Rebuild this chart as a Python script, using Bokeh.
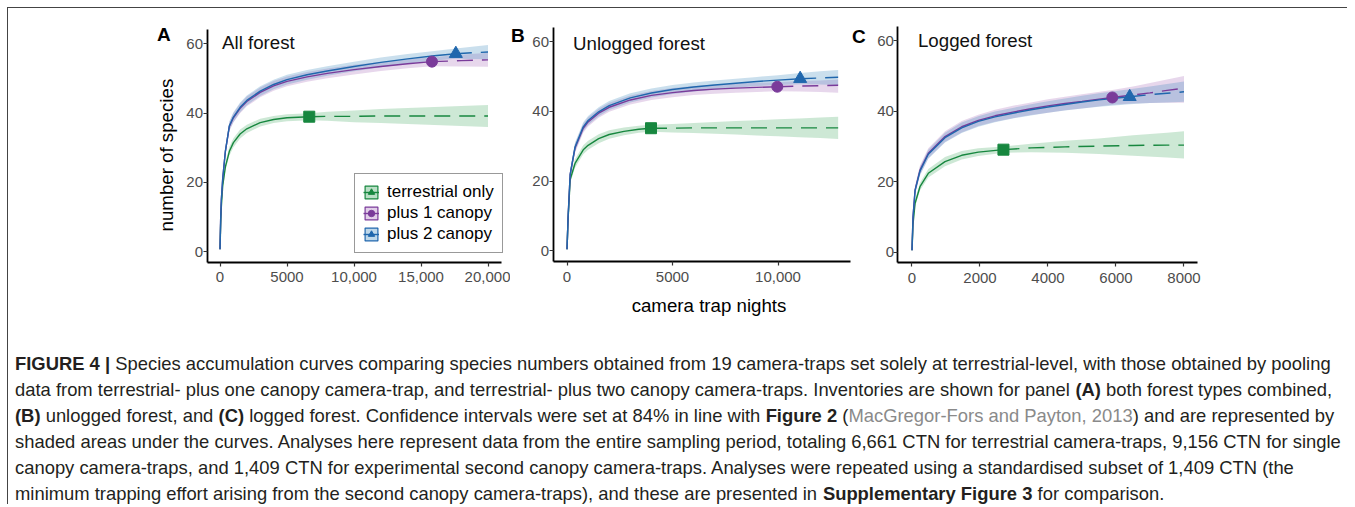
from bokeh.plotting import figure
from bokeh.models import Range1d, FixedTicker, Label, Legend, LegendItem
from bokeh.layouts import row, column
from bokeh.embed import file_html
from bokeh.resources import INLINE
from bokeh.core.properties import value

# ---------------- data ----------------
series_labels = ["terrestrial only", "plus 1 canopy", "plus 2 canopy"]
panel_titles = ["All forest", "Unlogged forest", "Logged forest"]
panel_letters = ["A", "B", "C"]
y_label = "number of species"
x_label = "camera trap nights"
y_ticks = [0, 20, 40, 60]
A_x_ticks = [0, 5000, 10000, 15000, 20000]
B_x_ticks = [0, 5000, 10000]
C_x_ticks = [0, 2000, 4000, 6000, 8000]
x_tick_text = {10000: "10,000", 15000: "15,000", 20000: "20,000"}

# Panel A (all forest)
A_green_x = [1, 50, 100, 200, 400, 700, 1000, 1500, 2000, 3000, 4000, 5000, 6661, 8000, 10000, 12000, 14000, 16000, 18000, 20000]
A_green_y = [0.7, 8.0, 13.0, 19.0, 24.5, 29.0, 31.5, 34.0, 35.5, 37.3, 38.2, 38.7, 39.0, 39.1, 39.1, 39.2, 39.2, 39.2, 39.2, 39.2]
A_green_lo = [0.6, 7.2, 12.0, 17.9, 23.3, 27.7, 30.2, 32.7, 34.3, 36.2, 37.2, 37.7, 38.0, 37.8, 37.4, 37.2, 36.9, 36.6, 36.3, 36.0]
A_green_hi = [0.8, 8.8, 14.0, 20.1, 25.7, 30.3, 32.8, 35.3, 36.7, 38.4, 39.2, 39.7, 40.0, 40.4, 40.8, 41.2, 41.5, 41.8, 42.1, 42.4]
A_purple_x = [1, 50, 100, 200, 400, 700, 1000, 1500, 2000, 3000, 4000, 5000, 6500, 8000, 10000, 12000, 14000, 15817, 18000, 20000]
A_purple_y = [0.7, 9.5, 15.0, 21.0, 29.0, 36.2, 38.7, 41.4, 43.4, 46.0, 47.9, 49.2, 50.5, 51.5, 52.6, 53.5, 54.3, 54.9, 55.2, 55.4]
A_purple_lo = [0.6, 8.8, 14.1, 19.9, 27.8, 34.9, 37.3, 40.0, 42.0, 44.6, 46.5, 47.8, 49.1, 50.1, 51.2, 52.2, 53.0, 53.6, 53.5, 53.4]
A_purple_hi = [0.8, 10.2, 15.9, 22.1, 30.2, 37.5, 40.1, 42.8, 44.8, 47.4, 49.3, 50.6, 51.9, 52.9, 54.0, 54.8, 55.6, 56.2, 56.9, 57.5]
A_blue_x = [1, 50, 100, 200, 400, 700, 1000, 1500, 2000, 3000, 4000, 5000, 6500, 8000, 10000, 12000, 14000, 16000, 17600, 20000]
A_blue_y = [0.7, 9.5, 15.0, 21.0, 29.0, 36.4, 38.9, 41.7, 43.7, 46.4, 48.3, 49.7, 51.1, 52.2, 53.5, 54.7, 55.7, 56.6, 57.2, 57.7]
A_blue_lo = [0.6, 8.8, 14.1, 19.9, 27.8, 35.1, 37.5, 40.3, 42.3, 45.0, 46.9, 48.3, 49.7, 50.8, 52.1, 53.3, 54.3, 55.2, 55.7, 55.6]
A_blue_hi = [0.8, 10.2, 15.9, 22.1, 30.2, 37.7, 40.3, 43.1, 45.1, 47.8, 49.7, 51.1, 52.5, 53.6, 54.9, 56.1, 57.1, 58.0, 58.7, 59.7]
A_obs_x = [6661, 15817, 17600]

# Panel B (unlogged forest)
B_green_x = [1, 50, 150, 380, 770, 1000, 1500, 2000, 2700, 3400, 3981, 5000, 6000, 7000, 8000, 9000, 10000, 11000, 12000, 12850]
B_green_y = [0.5, 9.0, 20.5, 25.1, 29.0, 30.3, 32.2, 33.4, 34.3, 34.9, 35.2, 35.2, 35.3, 35.3, 35.3, 35.3, 35.3, 35.3, 35.3, 35.3]
B_green_lo = [0.4, 8.2, 19.4, 23.9, 27.7, 29.0, 30.9, 32.2, 33.2, 33.9, 34.2, 34.0, 33.8, 33.6, 33.4, 33.1, 32.9, 32.6, 32.4, 32.1]
B_green_hi = [0.6, 9.8, 21.6, 26.3, 30.3, 31.6, 33.5, 34.6, 35.4, 35.9, 36.2, 36.4, 36.7, 37.0, 37.3, 37.5, 37.8, 38.0, 38.3, 38.5]
B_purple_x = [1, 50, 150, 380, 770, 1000, 1500, 2000, 3000, 4000, 5000, 6000, 7000, 8000, 9000, 9967, 11000, 12000, 12850]
B_purple_y = [0.5, 9.5, 22.0, 29.5, 35.2, 37.0, 39.5, 41.2, 43.3, 44.6, 45.4, 46.0, 46.4, 46.7, 46.9, 47.1, 47.3, 47.4, 47.5]
B_purple_lo = [0.4, 8.7, 20.8, 28.2, 33.9, 35.7, 38.2, 39.9, 42.0, 43.3, 44.1, 44.7, 45.1, 45.4, 45.6, 45.8, 45.7, 45.6, 45.4]
B_purple_hi = [0.6, 10.3, 23.2, 30.8, 36.5, 38.3, 40.8, 42.5, 44.6, 45.9, 46.7, 47.3, 47.7, 48.0, 48.2, 48.4, 48.7, 48.9, 49.2]
B_blue_x = [1, 50, 150, 380, 770, 1000, 1500, 2000, 3000, 4000, 5000, 6000, 7000, 8000, 9000, 10000, 11050, 12000, 12850]
B_blue_y = [0.5, 9.5, 22.0, 29.8, 35.6, 37.4, 39.9, 41.7, 43.9, 45.3, 46.3, 47.0, 47.6, 48.1, 48.6, 49.0, 49.4, 49.6, 49.8]
B_blue_lo = [0.4, 8.7, 20.8, 28.5, 34.3, 36.1, 38.6, 40.4, 42.6, 44.0, 45.0, 45.7, 46.3, 46.8, 47.3, 47.6, 47.8, 47.7, 47.6]
B_blue_hi = [0.6, 10.3, 23.2, 31.1, 36.9, 38.7, 41.2, 43.0, 45.2, 46.6, 47.6, 48.3, 48.9, 49.4, 49.9, 50.4, 51.0, 51.5, 51.9]
B_obs_x = [3981, 9967, 11050]

# Panel C (logged forest)
C_green_x = [1, 30, 91, 235, 480, 971, 1462, 1950, 2690, 3500, 4500, 5500, 6500, 7500, 8000]
C_green_y = [0.6, 8.0, 13.9, 18.6, 22.4, 25.7, 27.5, 28.4, 29.1, 29.6, 29.9, 30.1, 30.3, 30.4, 30.4]
C_green_lo = [0.5, 7.3, 13.0, 17.5, 21.2, 24.4, 26.3, 27.3, 28.2, 28.4, 28.2, 27.9, 27.4, 26.9, 26.6]
C_green_hi = [0.7, 8.7, 14.8, 19.7, 23.6, 27.0, 28.7, 29.5, 30.0, 30.8, 31.6, 32.3, 33.2, 33.9, 34.3]
C_purple_x = [1, 30, 91, 235, 480, 971, 1462, 1950, 2441, 3000, 3500, 4000, 4500, 5000, 5892, 6500, 7000, 7500, 8000]
C_purple_y = [0.6, 10.0, 17.7, 23.3, 28.1, 32.8, 35.6, 37.4, 38.7, 39.8, 40.7, 41.5, 42.2, 42.8, 43.9, 44.6, 45.2, 45.9, 46.5]
C_purple_lo = [0.5, 9.1, 16.5, 22.0, 26.7, 31.3, 34.0, 35.8, 37.0, 38.1, 38.9, 39.6, 40.3, 40.8, 41.8, 42.2, 42.3, 42.4, 42.4]
C_purple_hi = [0.7, 10.9, 18.9, 24.6, 29.5, 34.3, 37.2, 39.0, 40.4, 41.6, 42.5, 43.4, 44.1, 44.8, 46.0, 47.0, 48.0, 49.0, 50.0]
C_blue_x = [1, 30, 91, 235, 480, 971, 1462, 1950, 2441, 3000, 3500, 4000, 4500, 5000, 5500, 6403, 7000, 7500, 8000]
C_blue_y = [0.6, 10.0, 17.5, 23.0, 27.8, 32.5, 35.3, 37.1, 38.4, 39.5, 40.4, 41.2, 41.9, 42.6, 43.2, 44.1, 44.7, 45.1, 45.5]
C_blue_lo = [0.5, 9.1, 16.4, 21.8, 26.5, 31.1, 33.8, 35.6, 36.9, 38.0, 38.8, 39.6, 40.2, 40.8, 41.3, 42.0, 42.3, 42.5, 42.7]
C_blue_hi = [0.7, 10.9, 18.6, 24.2, 29.1, 33.9, 36.8, 38.6, 39.9, 41.0, 42.0, 42.8, 43.6, 44.4, 45.1, 46.2, 47.0, 47.7, 48.4]
C_obs_x = [2690, 5892, 6403]

# caption: (text, style, space before)
caption_lines = [
    [("FIGURE 4 |", "b", False), ("Species accumulation curves comparing species numbers obtained from 19 camera-traps set solely at terrestrial-level, with those obtained by pooling", "n", True)],
    [("data from terrestrial- plus one canopy camera-trap, and terrestrial- plus two canopy camera-traps. Inventories are shown for panel", "n", False), ("(A)", "b", True), ("both forest types combined,", "n", True)],
    [("(B)", "b", False), ("unlogged forest, and", "n", True), ("(C)", "b", True), ("logged forest. Confidence intervals were set at 84% in line with", "n", True), ("Figure 2", "b", True), ("(", "n", True), ("MacGregor-Fors and Payton, 2013", "g", False), (") and are represented by", "n", False)],
    [("shaded areas under the curves. Analyses here represent data from the entire sampling period, totaling 6,661 CTN for terrestrial camera-traps, 9,156 CTN for single", "n", False)],
    [("canopy camera-traps, and 1,409 CTN for experimental second canopy camera-traps. Analyses were repeated using a standardised subset of 1,409 CTN (the", "n", False)],
    [("minimum trapping effort arising from the second canopy camera-traps), and these are presented in", "n", False), ("Supplementary Figure 3", "b", True), ("for comparison.", "n", True)],
]

# ---------------- styling ----------------
FONT = "Liberation Sans"
LINE_COL = ["#17873f", "#7a3b9a", "#2067ad"]
FILL_COL = ["#1a9641", "#9e5fb5", "#2c7fb8"]
FILL_ALPHA = [0.22, 0.25, 0.25]
OBS_MARKER = ["square", "circle", "triangle"]
OBS_SIZE = [11, 11, 13]
KEY_MARKER = ["triangle", "circle", "triangle"]
NAN = float("nan")

# Arial / Liberation Sans advance widths (1/1000 em) for laying out caption runs
_REG = {" ": 278, "(": 333, ")": 333, ",": 278, "-": 333, ".": 278, "%": 889, "|": 260, ":": 278}
_BOLD = {" ": 278, "(": 333, ")": 333, ",": 278, "-": 333, ".": 278, "%": 889, "|": 280, ":": 333}
for ch, w in zip("ABCDEFGHIJKLMNOPQRSTUVWXYZ",
                 [667, 667, 722, 722, 667, 611, 778, 722, 278, 500, 667, 556, 833, 722, 778, 667, 778, 722, 667, 611, 722, 667, 944, 667, 667, 611]):
    _REG[ch] = w
for ch, w in zip("ABCDEFGHIJKLMNOPQRSTUVWXYZ",
                 [722, 722, 722, 722, 667, 611, 778, 722, 278, 556, 722, 611, 833, 722, 778, 667, 778, 722, 667, 611, 722, 667, 944, 667, 667, 611]):
    _BOLD[ch] = w
for ch, w in zip("abcdefghijklmnopqrstuvwxyz",
                 [556, 556, 500, 556, 556, 278, 556, 556, 222, 222, 500, 222, 833, 556, 556, 556, 556, 333, 500, 278, 556, 500, 722, 500, 500, 500]):
    _REG[ch] = w
for ch, w in zip("abcdefghijklmnopqrstuvwxyz",
                 [556, 611, 556, 611, 556, 333, 611, 611, 278, 278, 556, 278, 889, 611, 611, 611, 611, 389, 556, 333, 611, 556, 778, 556, 556, 500]):
    _BOLD[ch] = w
for ch in "0123456789":
    _REG[ch] = 556
    _BOLD[ch] = 556


def text_width(s, bold, px):
    tab = _BOLD if bold else _REG
    return sum(tab.get(c, 556) for c in s) * px / 1000.0


def style_axis(ax, standoff):
    ax.axis_line_color = "black"
    ax.axis_line_width = 1.8
    ax.major_tick_line_color = "#333333"
    ax.major_tick_line_width = 1.2
    ax.major_tick_out = 4
    ax.major_tick_in = 0
    ax.minor_tick_line_color = None
    ax.major_label_text_font = FONT
    ax.major_label_text_font_size = "15px"
    ax.major_label_text_color = "#4d4d4d"
    ax.major_label_standoff = standoff


def make_panel(width, xr, yr, axis_x, axis_y, x_end, y_end, xticks, series, obs_x):
    p = figure(width=width, height=320, x_range=Range1d(*xr), y_range=Range1d(*yr),
               output_backend="svg", toolbar_location=None, min_border=0)
    p.grid.visible = False
    p.outline_line_color = None
    p.background_fill_color = "white"
    p.border_fill_color = "white"
    xa, ya = p.xaxis[0], p.yaxis[0]
    style_axis(xa, 6)
    style_axis(ya, 0)
    xa.fixed_location = axis_y
    ya.fixed_location = axis_x
    xa.bounds = (axis_x, x_end)
    ya.bounds = (axis_y, y_end)
    ya.ticker = FixedTicker(ticks=y_ticks)
    xa.ticker = FixedTicker(ticks=xticks)
    xa.major_label_overrides = {k: v for k, v in x_tick_text.items() if k in xticks}

    for i, (xs, ys, lo, hi) in enumerate(series):
        p.varea(x=xs, y1=lo, y2=hi, fill_color=FILL_COL[i], fill_alpha=FILL_ALPHA[i])
    for i, (xs, ys, lo, hi) in enumerate(series):
        k = xs.index(obs_x[i])
        p.line(xs[:k + 1], ys[:k + 1], line_color=LINE_COL[i], line_width=1.4)
        p.line(xs[k:], ys[k:], line_color=LINE_COL[i], line_width=1.4, line_dash="16 9")
    for i, (xs, ys, lo, hi) in enumerate(series):
        k = xs.index(obs_x[i])
        p.scatter([xs[k]], [ys[k]], marker=OBS_MARKER[i], size=OBS_SIZE[i],
                  fill_color=LINE_COL[i], line_color=LINE_COL[i])
    return p


pA = make_panel(502, (-15784, 21679), (-22.18, 70.25), -970, -2.98, 21040, 64.04, A_x_ticks,
                [(A_green_x, A_green_y, A_green_lo, A_green_hi),
                 (A_purple_x, A_purple_y, A_purple_lo, A_purple_hi),
                 (A_blue_x, A_blue_y, A_blue_lo, A_blue_hi)], A_obs_x)
pB = make_panel(341, (-2678, 13483), (-22.22, 69.52), -663, -3.15, 13412, 64.2, B_x_ticks,
                [(B_green_x, B_green_y, B_green_lo, B_green_hi),
                 (B_purple_x, B_purple_y, B_purple_lo, B_purple_hi),
                 (B_blue_x, B_blue_y, B_blue_lo, B_blue_hi)], B_obs_x)
pC = make_panel(496, (-1779, 12809), (-21.6, 69.12), -412, -3.03, 8412, 64.0, C_x_ticks,
                [(C_green_x, C_green_y, C_green_lo, C_green_hi),
                 (C_purple_x, C_purple_y, C_purple_lo, C_purple_hi),
                 (C_blue_x, C_blue_y, C_blue_lo, C_blue_hi)], C_obs_x)

# panel letters and titles
for p, letter, lx, ly, title, tx, ty in [
        (pA, panel_letters[0], -4700, 62.6, panel_titles[0], 150, 60.3),
        (pB, panel_letters[1], -2650, 61.7, panel_titles[1], 284, 59.5),
        (pC, panel_letters[2], -1765, 61.3, panel_titles[2], 176, 60.0)]:
    p.add_layout(Label(x=lx, y=ly, text=letter, text_font=FONT, text_font_style="bold",
                       text_font_size="19px", text_baseline="middle", text_align="left",
                       text_color="black"))
    p.add_layout(Label(x=tx, y=ty, text=title, text_font=FONT, text_font_size="18.7px",
                       text_baseline="middle", text_align="left", text_color="#111111"))

pA.add_layout(Label(x=-4030, y=27.9, text=y_label, angle=1.5707963, text_font=FONT,
                    text_font_size="18.7px", text_align="center", text_baseline="middle",
                    text_color="black"))
pB.add_layout(Label(x=6730, y=-15.5, text=x_label, text_font=FONT,
                    text_font_size="18.7px", text_align="center", text_baseline="middle",
                    text_color="black"))

# legend (panel A)
items = []
for i, lab in enumerate(series_labels):
    r_box = pA.quad(left=[NAN], right=[NAN], top=[NAN], bottom=[NAN], fill_color=FILL_COL[i],
                    fill_alpha=0.3, line_color=LINE_COL[i], line_width=1.2)
    r_line = pA.line(x=[NAN], y=[NAN], line_color=LINE_COL[i], line_width=1.4)
    r_mark = pA.scatter(x=[NAN], y=[NAN], marker=KEY_MARKER[i], fill_color=LINE_COL[i],
                        line_color=LINE_COL[i])
    items.append(LegendItem(label=lab, renderers=[r_box, r_line, r_mark]))
legend = Legend(items=items, location=(346, 75), margin=0, padding=8, spacing=1,
                glyph_width=16, glyph_height=16, label_height=20, label_standoff=8,
                label_text_font=FONT, label_text_font_size="17px", label_text_color="black",
                border_line_color="#333333", border_line_width=1.2,
                background_fill_color="white", background_fill_alpha=1)
pA.add_layout(legend)

# caption
CAP_H = 176
CAP_PX = 18.4
cap = figure(width=1339, height=CAP_H, x_range=Range1d(0, 1339), y_range=Range1d(CAP_H, 0),
             output_backend="svg", toolbar_location=None, min_border=0,
             x_axis_location=None, y_axis_location=None)
cap.grid.visible = False
cap.outline_line_color = None
line_y0, line_dy, x0 = 34.5, 26, 6.5
styles = {"n": ("normal", "#231f20"), "b": ("bold", "#231f20"), "g": ("normal", "#8a8a8a")}
runs = {k: ([], [], []) for k in styles}
for li, segs in enumerate(caption_lines):
    x = x0
    for (t, s, sp) in segs:
        if sp:
            x += text_width(" ", False, CAP_PX)
        runs[s][0].append(x)
        runs[s][1].append(line_y0 + li * line_dy)
        runs[s][2].append(t)
        x += text_width(t, s == "b", CAP_PX)
for st, (fstyle, col) in styles.items():
    xs, ys, ts = runs[st]
    cap.text(x=xs, y=ys, text=ts, text_font=value(FONT), text_font_size=f"{CAP_PX}px",
             text_font_style=fstyle, text_color=col, text_baseline="middle", text_align="left")

layout = column(row(pA, pB, pC), cap,
                styles={"margin-left": "7px", "margin-top": "7px",
                        "border-top": "1.5px solid #444444", "border-left": "1.5px solid #444444"})
open("out.html", "w").write(file_html(layout, INLINE))
